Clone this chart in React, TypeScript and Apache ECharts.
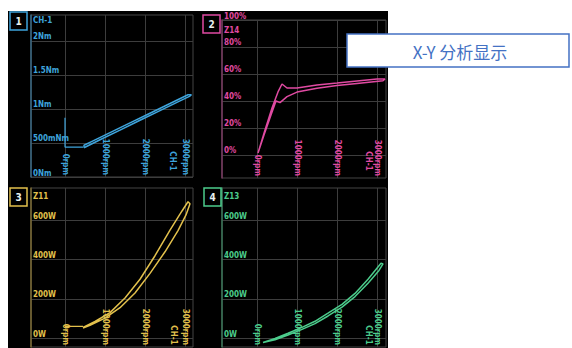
import React, { useEffect, useRef } from "react";
import * as echarts from "echarts";

// ---- tick values / labels ----
const xTicks = [0, 1000, 2000, 3000];
const xTickLabels = ["0rpm", "1000rpm", "2000rpm", "3000rpm"];

const p1Ticks = [0, 0.5, 1, 1.5, 2];
const p1TickLabels = ["0Nm", "500mNm", "1Nm", "1.5Nm", "2Nm"];
const p2Ticks = [0, 20, 40, 60, 80, 100];
const p2TickLabels = ["0%", "20%", "40%", "60%", "80%", "100%"];
const wTicks = [0, 200, 400, 600];
const wTickLabels = ["0W", "200W", "400W", "600W"];

const panelNames = ["CH-1", "Z14", "Z11", "Z13"];
const xSourceName = "CH-1";
const panelNumbers = ["1", "2", "3", "4"];

// ---- panel 1 : torque (Nm) vs speed ----
const p1LoopX = [475, 875, 1375, 1875, 2375, 2875, 3125, 3160, 3075, 2625, 2125, 1625, 1125, 675, 475, 475];
const p1LoopY = [0.43, 0.548, 0.69, 0.834, 0.976, 1.119, 1.19, 1.21, 1.21, 1.081, 0.938, 0.795, 0.652, 0.524, 0.467, 0.43];
const p1CursorX = [0, 0, 450];
const p1CursorY = [0.87, 0.44, 0.44];

// ---- panel 2 : efficiency (%) vs speed ----
const p2LoopX = [25, 200, 375, 525, 625, 750, 1000, 1500, 2000, 2500, 3000, 3200, 3150, 2500, 2000, 1500, 1000, 750, 575, 475, 350, 175, 25];
const p2LoopY = [1.5, 18.5, 34.8, 46.7, 52.6, 49.6, 49.6, 51.9, 53.3, 54.8, 56.3, 56.3, 55.0, 53.0, 51.5, 49.4, 46.6, 43.2, 38.8, 40.0, 29.6, 14.8, 1.5];

// ---- panel 3 : power (W) vs speed ----
const p3LoopX = [450, 750, 1125, 1500, 1875, 2250, 2625, 2925, 3075, 3125, 3025, 2825, 2500, 2125, 1750, 1375, 1000, 625, 450];
const p3LoopY = [55, 85, 130, 205, 300, 420, 550, 648, 695, 685, 628, 548, 440, 330, 230, 155, 102, 66, 52];
const p3SegX = [0, 450];
const p3SegY = [60, 60];

// ---- panel 4 : power (W) vs speed ----
const p4LoopX = [150, 450, 775, 1125, 1450, 1775, 2125, 2450, 2775, 3050, 3150, 3100, 2775, 2450, 2125, 1775, 1450, 1125, 775, 450, 150];
const p4LoopY = [-22, -8, 16, 45, 74, 113, 158, 212, 280, 345, 378, 382, 300, 228, 172, 127, 86, 55, 25, -2, -22];

const pairs = (xs: number[], ys: number[]) => xs.map((x, i) => [x, ys[i]]);

const FONT = "DejaVu Sans Condensed";
const COL = ["#3ea4dc", "#e04aa2", "#e2c04c", "#4ccc8c"];
const DIM = ["#3a6a86", "#7a3a62", "#7e6c34", "#3a7658"];
const GRIDC = "#3d3d3d";

export default function App() {
  const ref = useRef<HTMLDivElement>(null);

  useEffect(() => {
    if (!ref.current) return;
    const chart = echarts.init(ref.current, undefined, { renderer: "svg" });

    const grids = [
      { left: 31, top: 15, width: 162, height: 162 },
      { left: 222, top: 20, width: 164, height: 158 },
      { left: 31, top: 188, width: 162, height: 162 },
      { left: 222, top: 188, width: 164, height: 162 },
    ].map((g) => ({ ...g, show: true, borderColor: "#444", borderWidth: 1, backgroundColor: "transparent" }));

    const xRanges = [
      [-850, 3200],
      [-875, 3225],
      [-850, 3200],
      [-875, 3225],
    ];
    const yRanges = [
      [0, 2.382],
      [-17.04, 100],
      [-45, 765],
      [-45, 765],
    ];
    const yTickSets = [p1Ticks, p2Ticks, wTicks, wTicks];
    const yLabelSets = [p1TickLabels, p2TickLabels, wTickLabels, wTickLabels];

    const xAxis = grids.map((_, i) => ({
      type: "value",
      gridIndex: i,
      min: xRanges[i][0],
      max: xRanges[i][1],
      axisLine: { show: false, onZero: false },
      axisTick: { show: false, customValues: xTicks },
      splitLine: { show: true, lineStyle: { color: GRIDC, width: 1 } },
      axisLabel: {
        show: true,
        inside: true,
        rotate: -90,
        margin: 2,
        customValues: xTicks,
        formatter: (v: number) => xTickLabels[xTicks.indexOf(v)] ?? "",
        color: COL[i],
        fontSize: 8,
        fontWeight: "bold",
        fontFamily: FONT,
      },
    }));

    const yAxis = grids.map((_, i) => ({
      type: "value",
      gridIndex: i,
      min: yRanges[i][0],
      max: yRanges[i][1],
      axisLine: { show: true, onZero: false, lineStyle: { color: DIM[i], width: 1.5 } },
      axisTick: { show: false, customValues: yTickSets[i] },
      splitLine: { show: true, lineStyle: { color: GRIDC, width: 1 } },
      axisLabel: {
        show: true,
        inside: true,
        margin: 2,
        verticalAlign: "bottom",
        customValues: yTickSets[i],
        formatter: (v: number) => yLabelSets[i][yTickSets[i].indexOf(v)] ?? "",
        color: COL[i],
        fontSize: 8,
        fontWeight: "bold",
        fontFamily: FONT,
      },
    }));

    const line = (i: number, data: number[][], width = 1.5) => ({
      type: "line",
      xAxisIndex: i,
      yAxisIndex: i,
      data,
      showSymbol: false,
      symbol: "none",
      lineStyle: { color: COL[i], width },
      z: 5,
    });

    const series = [
      line(0, pairs(p1LoopX, p1LoopY)),
      line(0, pairs(p1CursorX, p1CursorY), 1.2),
      line(1, pairs(p2LoopX, p2LoopY)),
      line(2, pairs(p3LoopX, p3LoopY)),
      line(2, pairs(p3SegX, p3SegY), 1.2),
      line(3, pairs(p4LoopX, p4LoopY)),
    ];

    const boxPos = [
      [10, 12],
      [203, 15],
      [10, 188],
      [204, 188],
    ];
    const namePos = [
      [33, 20],
      [224, 30],
      [33, 196],
      [224, 196],
    ];
    const xNamePos = [
      [172, 161],
      [368, 161],
      [173, 335],
      [368, 335],
    ];

    const graphic: any[] = [
      { type: "rect", z: -100, silent: true, shape: { x: 8, y: 11, width: 380, height: 337 }, style: { fill: "#000" } },
    ];
    boxPos.forEach(([x, y], i) => {
      graphic.push({
        type: "rect",
        z: 10,
        shape: { x, y, width: 17, height: 18 },
        style: { fill: "#000", stroke: COL[i], lineWidth: 1.5 },
      });
      graphic.push({
        type: "text",
        z: 11,
        x: x + 8.5,
        y: y + 9,
        style: {
          text: panelNumbers[i],
          fill: "#e8f0f0",
          font: `bold 10px ${FONT}`,
          align: "center",
          verticalAlign: "middle",
        },
      });
      graphic.push({
        type: "text",
        z: 11,
        x: namePos[i][0],
        y: namePos[i][1],
        style: {
          text: panelNames[i],
          fill: COL[i],
          font: `bold 8px ${FONT}`,
          align: "left",
          verticalAlign: "middle",
        },
      });
      graphic.push({
        type: "text",
        z: 11,
        x: xNamePos[i][0],
        y: xNamePos[i][1],
        rotation: -Math.PI / 2,
        style: {
          text: xSourceName,
          fill: COL[i],
          font: `bold 8px ${FONT}`,
          align: "center",
          verticalAlign: "middle",
        },
      });
    });
    graphic.push({
      type: "rect",
      z: 50,
      shape: { x: 347, y: 34, width: 222, height: 33 },
      style: { fill: "#fff", stroke: "#4472c4", lineWidth: 1.5 },
    });
    graphic.push({
      type: "text",
      z: 51,
      x: 460,
      y: 51,
      style: {
        text: "X-Y 分析显示",
        fill: "#4472c4",
        font: `17px "Noto Sans CJK SC"`,
        align: "center",
        verticalAlign: "middle",
      },
    });

    chart.setOption({
      animation: false,
      backgroundColor: "#fff",
      grid: grids,
      xAxis,
      yAxis,
      series,
      graphic,
    } as any);

    return () => chart.dispose();
  }, []);

  return <div ref={ref} style={{ position: "absolute", left: 0, top: 0, width: 572, height: 348 }} />;
}
